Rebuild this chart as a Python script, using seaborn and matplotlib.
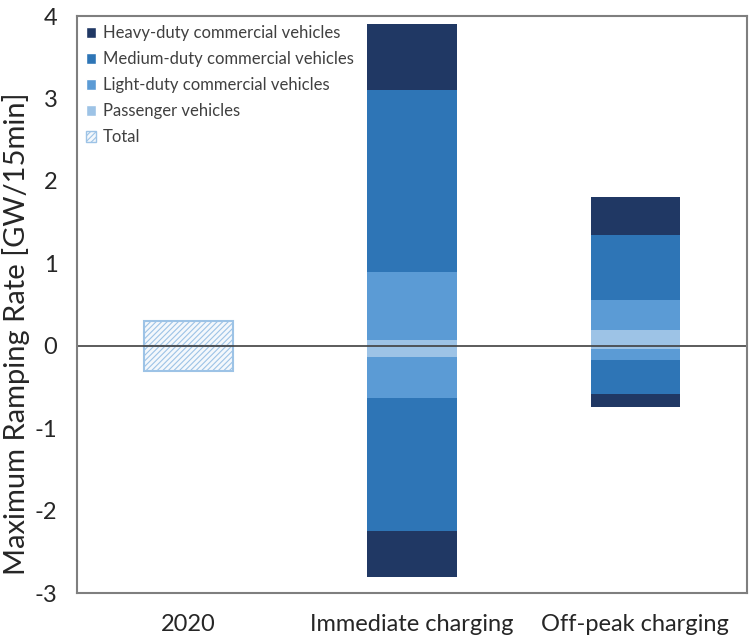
import numpy as np
import pandas as pd
import matplotlib
matplotlib.use("Agg")
import matplotlib.pyplot as plt
from matplotlib.patches import Patch
import seaborn as sns

categories = ["2020", "Immediate charging", "Off-peak charging"]

# upward ramping per vehicle class (GW/15min)
passenger_up = [0.0, 0.07, 0.19]
light_up = [0.0, 0.83, 0.37]
medium_up = [0.0, 2.20, 0.78]
heavy_up = [0.0, 0.80, 0.47]

# downward ramping per vehicle class
passenger_down = [0.0, -0.13, -0.04]
light_down = [0.0, -0.50, -0.13]
medium_down = [0.0, -1.62, -0.41]
heavy_down = [0.0, -0.56, -0.16]

total_up = [0.30, 0.0, 0.0]
total_down = [-0.30, 0.0, 0.0]

labels = ["Heavy-duty commercial vehicles", "Medium-duty commercial vehicles",
          "Light-duty commercial vehicles", "Passenger vehicles"]
colors = ["#203864", "#2E75B6", "#5B9BD5", "#9DC3E6"]

sns.set_style("white")
plt.rcParams['font.family'] = ['Lato', 'DejaVu Sans']
plt.rcParams['axes.unicode_minus'] = False
plt.rcParams['hatch.color'] = "#9DC3E6"
plt.rcParams['hatch.linewidth'] = 0.8

fig = plt.figure(figsize=(7.53, 6.44), dpi=100)
ax = fig.add_axes([0.102, 0.079, 0.89, 0.896])

up = np.array([passenger_up, light_up, medium_up, heavy_up])
down = np.array([passenger_down, light_down, medium_down, heavy_down])
cum_up = np.cumsum(up, axis=0)
cum_down = np.cumsum(down, axis=0)

# draw the biggest stack first, smaller ones on top
for i in [3, 2, 1, 0]:
    col = colors[3 - i]
    for cum in (cum_up, cum_down):
        df = pd.DataFrame({"cat": categories, "val": cum[i]})
        sns.barplot(data=df, x="cat", y="val", order=categories, color=col,
                    width=0.4, saturation=1, edgecolor="none", ax=ax)

for vals in (total_up, total_down):
    df = pd.DataFrame({"cat": categories, "val": vals})
    sns.barplot(data=df, x="cat", y="val", order=categories, color="#F4F8FC",
                width=0.4, saturation=1, edgecolor="#9DC3E6", linewidth=1.5,
                hatch="//////", ax=ax)

for p in ax.patches:
    if p.get_hatch():
        p.set_edgecolor("#9DC3E6")

ax.axhline(0, color="#404040", lw=1.2)
ax.set_xlim(-0.5, 2.5)
ax.set_ylim(-3, 4)
ax.set_yticks(range(-3, 5))
ax.set_xlabel("")
ax.set_ylabel("Maximum Ramping Rate [GW/15min]", fontsize=21, color="#262626")
ax.yaxis.set_label_coords(-0.07, 0.45)
ax.tick_params(axis="both", labelsize=17, colors="#262626", length=0)
ax.tick_params(axis="y", pad=14)
ax.tick_params(axis="x", pad=15)
for s in ax.spines.values():
    s.set_color("#7f7f7f")
    s.set_linewidth(1.5)

handles = [Patch(facecolor=c, label=l) for c, l in zip(colors, labels)]
handles.append(Patch(facecolor="#F4F8FC", edgecolor="#9DC3E6", hatch="//////", label="Total"))
ax.legend(handles=handles, loc="upper left", frameon=False, fontsize=12,
          handlelength=0.6, handleheight=0.6, handletextpad=0.4,
          labelspacing=0.6, borderaxespad=0.15, labelcolor="#404040")

fig.savefig("out.png", dpi=100)
